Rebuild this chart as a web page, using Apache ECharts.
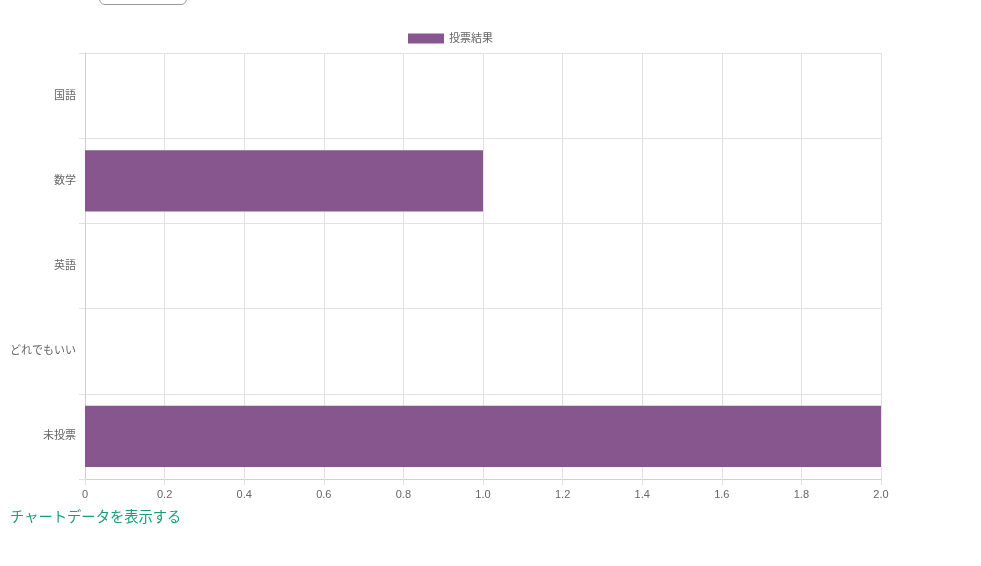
<!DOCTYPE html>
<html>
<head>
<meta charset="utf-8">
<script src="https://cdn.jsdelivr.net/npm/echarts@6/dist/echarts.min.js"></script>
<style>
html,body{margin:0;padding:0;background:#fff;}
#chart{width:981px;height:566px;position:absolute;left:0;top:0;}
#link{position:absolute;left:10px;top:505px;font-family:"Liberation Sans","Noto Sans CJK JP",sans-serif;font-size:14.3px;color:#1a9e78;text-decoration:none;}
#btn{position:absolute;left:99px;top:-20px;width:86px;height:23px;border:1px solid #999;border-radius:6px;background:#fff;}
</style>
</head>
<body>
<div id="chart"></div>
<div id="btn"></div>
<a id="link" href="#">チャートデータを表示する</a>
<script>
const categories = ['国語', '数学', '英語', 'どれでもいい', '未投票'];
const seriesName = '投票結果';
const values = [0, 1, 0, 0, 2];
const xMin = 0, xMax = 2, xStep = 0.2;

const font = '"Liberation Sans","Noto Sans CJK JP",sans-serif';
const chart = echarts.init(document.getElementById('chart'));
chart.setOption({
  animation: false,
  textStyle: {fontFamily: font},
  legend: {
    top: 28, left: 403,
    itemWidth: 36, itemHeight: 10, itemGap: 10,
    textStyle: {fontSize: 11, color: '#666', fontFamily: font},
    itemStyle: {borderWidth: 0},
    data: [{name: seriesName, icon: 'rect'}]
  },
  grid: {left: 85, right: 100, top: 53, bottom: 87, containLabel: false},
  xAxis: {
    type: 'value', min: xMin, max: xMax, interval: xStep,
    axisLine: {show: true, lineStyle: {color: '#d0d0d0'}},
    axisTick: {show: true, length: 6, lineStyle: {color: '#e2e2e2'}},
    splitLine: {show: true, lineStyle: {color: '#e2e2e2'}},
    axisLabel: {color: '#666', fontSize: 11, margin: 10, fontFamily: font,
      formatter: v => v === 0 ? '0' : v.toFixed(1)}
  },
  yAxis: {
    type: 'category', inverse: true, data: categories,
    axisLine: {show: true, lineStyle: {color: '#d0d0d0'}},
    axisTick: {show: true, length: 6, lineStyle: {color: '#e2e2e2'}},
    splitLine: {show: true, lineStyle: {color: '#e2e2e2'}},
    axisLabel: {color: '#666', fontSize: 11, margin: 9, fontFamily: font}
  },
  series: [{
    name: seriesName, type: 'bar', data: values,
    barCategoryGap: '28%',
    itemStyle: {color: '#88568f', borderWidth: 0}
  }]
});
</script>
</body>
</html>
